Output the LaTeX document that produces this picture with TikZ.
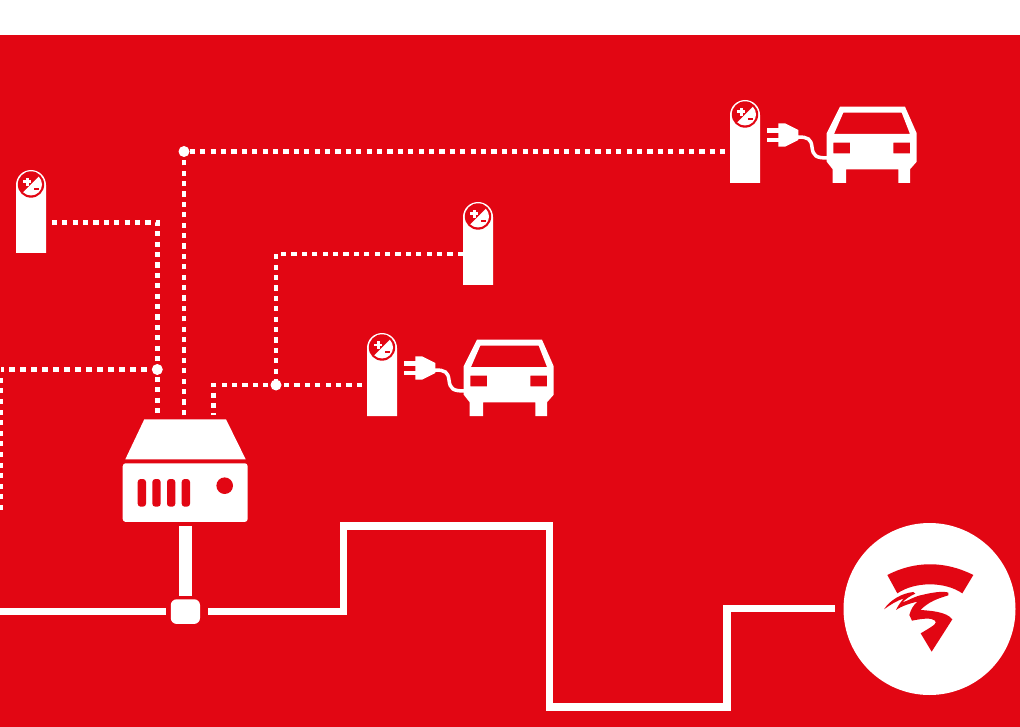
\documentclass[tikz,border=0pt]{standalone}
\usetikzlibrary{calc}
\definecolor{brandred}{HTML}{E20613}

\tikzset{
  dotline/.style={draw=white, line width=4.5pt, dash pattern=on 5.2pt off 5.2pt},
  cable/.style={draw=white, line width=7.5pt, miter limit=10},
  junction/.style={circle, fill=white, inner sep=0pt, minimum size=11pt},
  % charging post, origin at the middle of its foot
  charger/.pic={
    \fill[white] (-15,0) -- (-15,-68) arc[start angle=180, end angle=360, radius=15] -- (15,0) -- cycle;
    \fill[brandred] (0,-68.5) circle[radius=13.2];
    \begin{scope}
      \clip (0,-68.5) circle[radius=11];
      \fill[white] (-16,-52.5) -- (16,-84.5) -- (16,-52.5) -- cycle;
    \end{scope}
    \fill[white] (-7.7,-72.5) rectangle (0.3,-70);
    \fill[white] (-4.95,-75.3) rectangle (-2.45,-67.3);
    \fill[brandred] (2.5,-65) rectangle (7.5,-63);
  },
  % plug and car, same origin as the charger beside them
  plugcar/.pic={
    \fill[white] (21.7,-54.7) rectangle (34,-49.7);
    \fill[white] (21.7,-45.3) rectangle (34,-40.7);
    \fill[white] (33.3,-59.7) -- (40,-59.7) -- (53.3,-53) -- (53.3,-43) -- (40,-36.3) -- (33.3,-36.3) -- cycle;
    \draw[white, line width=3.5pt] (53,-46) .. controls (63,-46) and (66,-44) .. (67,-36)
      .. controls (68,-27) and (71,-25) .. (83,-25);
    \fill[white, even odd rule]
      (81.7,-49.7) -- (95,-76.3) -- (160,-76.3) -- (171.7,-49.7) -- (171.7,-21.3) -- (165,-13.7)
      -- (165,0) -- (153.3,0) -- (153.3,-13.7) -- (101,-13.7) -- (101,0) -- (87.7,0) -- (87.7,-13.7)
      -- (81.7,-21.3) -- cycle
      (98.3,-70.3) -- (156.7,-70.3) -- (165,-49) -- (89,-49) -- cycle
      (88.3,-40.3) rectangle (105,-29.7)
      (148.3,-40.3) rectangle (165,-29.7);
  },
}

\begin{document}
\begin{tikzpicture}[x=1pt, y=-1pt]
  \useasboundingbox (0,0) rectangle (1020,727);
  \fill[white] (0,0) rectangle (1020,727);
  \fill[brandred] (0,35) rectangle (1020,727);

  % charging posts
  \pic at (31,253) {charger};
  \pic at (478,285) {charger};
  \pic at (382,416) {charger};
  \pic at (745,183) {charger};
  \pic at (382,416) {plugcar};
  \pic at (745,183) {plugcar};

  % junctions
  \node[junction] (jtop) at (184,151.5) {};
  \node[junction] (jleft) at (157.3,369.5) {};
  \node[junction] (jmid) at (276,385) {};

  % free ends of the dotted lines
  \coordinate (postleft) at (51.8,222.3);
  \coordinate (postmid) at (463,254);
  \coordinate (postcar) at (362,385);
  \coordinate (posttop) at (726,151.5);
  \coordinate (srvA) at (157.3,415);
  \coordinate (srvB) at (184,415);
  \coordinate (srvC) at (213.5,415);
  \coordinate (edgetop) at (1,369.5);
  \coordinate (edgemid) at (1,375);
  \coordinate (edgelow) at (1,510);

  % dotted links
  \draw[dotline] (postleft) -| (srvA);
  \draw[dotline] (srvB) -- (jtop);
  \draw[dotline] (jtop) -- (posttop);
  \draw[dotline] (postmid) -| (jmid);
  \draw[dotline] (postcar) -| (srvC);
  \draw[dotline, dash pattern=on 5.5pt off 5.5pt, dash phase=2.8pt] (edgetop) -- (jleft);
  \draw[dotline, dash pattern=on 5pt off 5.6pt] (edgelow) -- (edgemid);

  % server
  \fill[white] (144.3,419.3) -- (226,419.3) -- (245.7,459.3) -- (125.3,459.3) -- cycle;
  \node[fill=white, rounded corners=3pt, minimum width=125pt, minimum height=58.7pt, inner sep=0pt] (srvbox) at (185.2,492.6) {};
  \foreach \slotx in {141.85,156.5,171.15,185.85}
    \fill[brandred, rounded corners=3pt] (\slotx-4.15,479) rectangle (\slotx+4.15,506.7);
  \fill[brandred] (224.7,485.7) circle[radius=8.3];

  % main cable
  \node[fill=white, rounded corners=6pt, minimum width=29.3pt, minimum height=24.7pt, inner sep=0pt] (hub) at (185.4,611.6) {};
  \node[circle, fill=white, minimum size=172pt, inner sep=0pt] (logo) at (929.5,609) {};
  \coordinate (cableL) at (0,611.5);
  \coordinate (cableR) at (208,611.5);
  \coordinate (cableE) at (835,608.5);
  \draw[cable] (cableL) -- (166,611.5);
  \draw[cable] (cableR) -- (343.5,611.5) -- (343.5,526) -- (549.5,526) -- (549.5,707) -- (727,707) -- (727,608.5) -- (cableE);
  \fill[white] (179,526) rectangle (191.7,596);

  % logo
  \begin{scope}[shift={(880,560)}, x=0.3333pt, y=-0.3333pt]
    \fill[brandred] (22,45) .. controls (105,2) and (195,2) .. (280,45) -- (247,100)
      .. controls (195,64) and (105,64) .. (52,100) -- cycle;
    \fill[brandred] (12,148) .. controls (30,120) and (65,100) .. (100,96) -- (106,101)
      .. controls (90,108) and (75,118) .. (68,127) .. controls (85,122) and (105,108) .. (130,104)
      .. controls (155,98) and (190,92) .. (205,98) -- (205,106)
      .. controls (175,115) and (145,125) .. (122,150) .. controls (150,152) and (200,155) .. (217,178)
      -- (155,275) -- (122,220) .. controls (170,192) and (170,190) .. (165,182)
      .. controls (155,172) and (125,176) .. (96,182) -- (88,165)
      .. controls (92,150) and (100,135) .. (112,125) .. controls (90,130) and (65,138) .. (48,150)
      .. controls (55,135) and (65,122) .. (72,115) .. controls (50,122) and (30,135) .. (12,148) -- cycle;
  \end{scope}
\end{tikzpicture}
\end{document}
